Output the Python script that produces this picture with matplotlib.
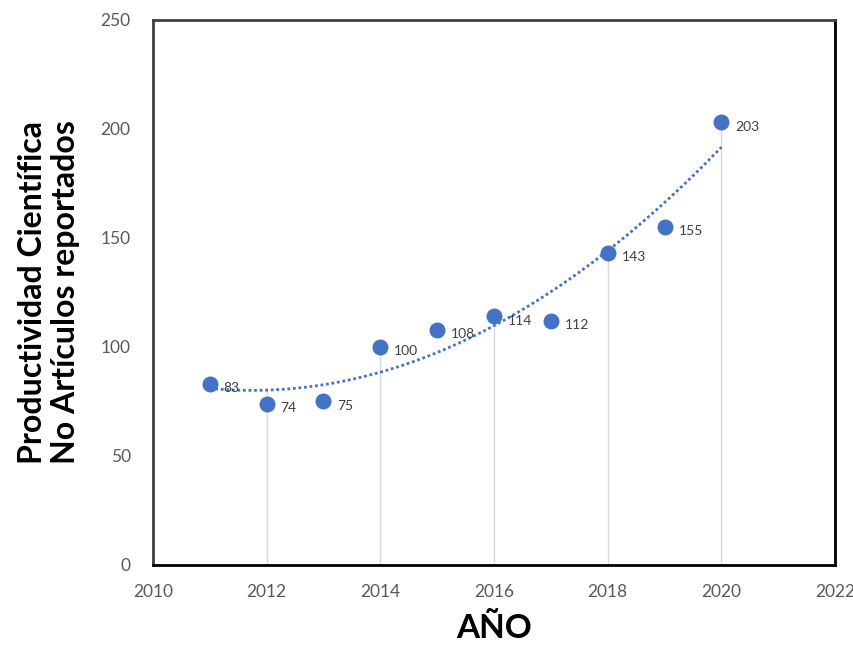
import matplotlib

matplotlib.use("Agg")
import matplotlib.pyplot as plt
import numpy as np

plt.rcParams["font.family"] = ["Lato", "DejaVu Sans"]

years = [2011, 2012, 2013, 2014, 2015, 2016, 2017, 2018, 2019, 2020]
articles = [83, 74, 75, 100, 108, 114, 112, 143, 155, 203]
x_ticks = [2010, 2012, 2014, 2016, 2018, 2020, 2022]
y_ticks = [0, 50, 100, 150, 200, 250]

blue = "#4472C4"

fig = plt.figure(figsize=(8.54, 6.46), dpi=100)
ax = fig.add_axes([0.179, 0.1254, 0.799, 0.8437])

# second-order polynomial trend over the observed years
coef = np.polyfit(years, articles, 2)
trend_x = np.linspace(years[0], years[-1], 200)
trend_y = np.polyval(coef, trend_x)

# light drop lines at the even years
for yr, val in zip(years, articles):
    if yr % 2 == 0:
        top = max(val, np.polyval(coef, yr))
        ax.vlines(yr, 0, top, color="#d9d9d9", linewidth=1.0, zorder=1)

ax.plot(trend_x, trend_y, linestyle=(0, (1, 1)), color=blue, linewidth=2.0, zorder=2)
ax.plot(years, articles, "o", color=blue, markersize=10.5, zorder=3)

for yr, val in zip(years, articles):
    ax.annotate(str(val), (yr, val), xytext=(10, -3), textcoords="offset points",
                fontsize=10, color="#404040", va="center", ha="left")

ax.set_xlim(2010, 2022)
ax.set_ylim(0, 250)
ax.set_xticks(x_ticks)
ax.set_yticks(y_ticks)
ax.tick_params(length=0, labelsize=12.5, colors="#595959")
ax.tick_params(axis="x", pad=14)
ax.tick_params(axis="y", pad=16)

for side in ("left", "top"):
    ax.spines[side].set_color("#404040")
    ax.spines[side].set_linewidth(2.0)
for side in ("right", "bottom"):
    ax.spines[side].set_color("#000000")
    ax.spines[side].set_linewidth(2.0)

ax.set_xlabel("AÑO", fontsize=24, fontweight="bold", color="black", labelpad=9)
ax.set_ylabel("Productividad Científica\nNo Artículos reportados", fontsize=23,
              fontweight="bold", color="black", labelpad=15, linespacing=1.15)

fig.savefig("out.png", dpi=100)
